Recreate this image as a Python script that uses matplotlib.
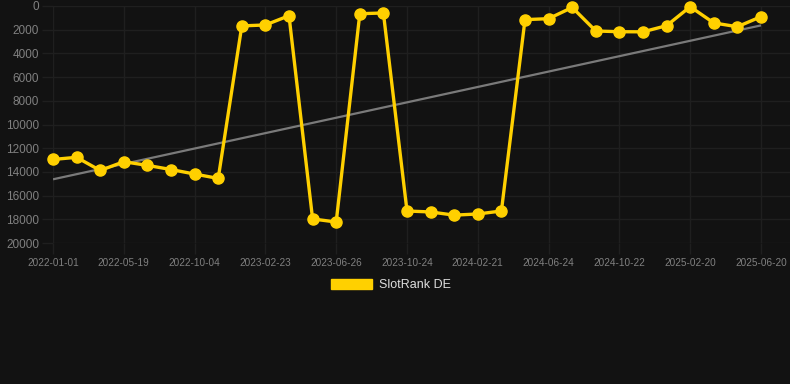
import numpy as np
import matplotlib
matplotlib.use("Agg")
import matplotlib.pyplot as plt
from matplotlib.patches import Patch

# ---- data ----
tick_labels = ["2022-01-01", "2022-05-19", "2022-10-04", "2023-02-23", "2023-06-26",
               "2023-10-24", "2024-02-21", "2024-06-24", "2024-10-22", "2025-02-20",
               "2025-06-20"]
rank_values = [12950, 12770, 13880, 13140, 13450, 13800, 14180, 14550,
               1680, 1600, 820, 17970, 18230, 650, 590,
               17300, 17380, 17650, 17550, 17300,
               1150, 1070, 120, 2110, 2170, 2180, 1660, 60, 1430, 1750, 900]
series_name = "SlotRank DE"

# ---- style ----
BG = "#121212"
GRID = "#1f1f1f"
TICK = "#808080"
YELLOW = "#FFD000"
TREND = "#7a7a7a"

fig = plt.figure(figsize=(7.9, 3.84), dpi=100, facecolor=BG)
ax = fig.add_axes([53/790, 1-243/384, 1-53/790, (243-6)/384])
ax.set_facecolor(BG)

x = np.arange(len(rank_values))
y = np.array(rank_values, dtype=float)

# trend line (linear regression)
coef = np.polyfit(x, y, 1)
ax.plot(x, np.polyval(coef, x), color=TREND, lw=1.6, zorder=2, solid_capstyle="butt")

ax.plot(x, y, color=YELLOW, lw=2.4, marker="o", markersize=8, markerfacecolor=YELLOW,
        markeredgecolor=YELLOW, zorder=3, clip_on=False)

ax.set_xlim(0, (790-53)/23.6)
ax.set_ylim(20000, 0)

ax.set_yticks(np.arange(0, 20001, 2000))
ax.set_yticklabels([str(v) for v in range(0, 20001, 2000)])
tick_pos = x[::3]
ax.set_xticks(tick_pos)
ax.set_xticklabels(tick_labels)

ax.grid(True, color=GRID, lw=1)
ax.set_axisbelow(True)
for s in ax.spines.values():
    s.set_visible(False)

ax.tick_params(axis="y", colors=GRID, length=8, width=1, labelcolor=TICK,
               labelsize=8.5, pad=2)
ax.tick_params(axis="x", colors=GRID, length=8, width=1, labelcolor=TICK,
               labelsize=7.2, pad=3)
for lbl in ax.get_xticklabels() + ax.get_yticklabels():
    lbl.set_fontfamily("Liberation Sans")

handle = Patch(facecolor=YELLOW, edgecolor=YELLOW)
leg = fig.legend([handle], [series_name], loc="center", bbox_to_anchor=(391/790, 1-285/384),
                 frameon=False, handlelength=3.3, handleheight=0.9, handletextpad=0.6,
                 prop={"family": "Liberation Sans", "size": 9})
for t in leg.get_texts():
    t.set_color("#dddddd")

fig.savefig("out.png", dpi=100, facecolor=BG)
